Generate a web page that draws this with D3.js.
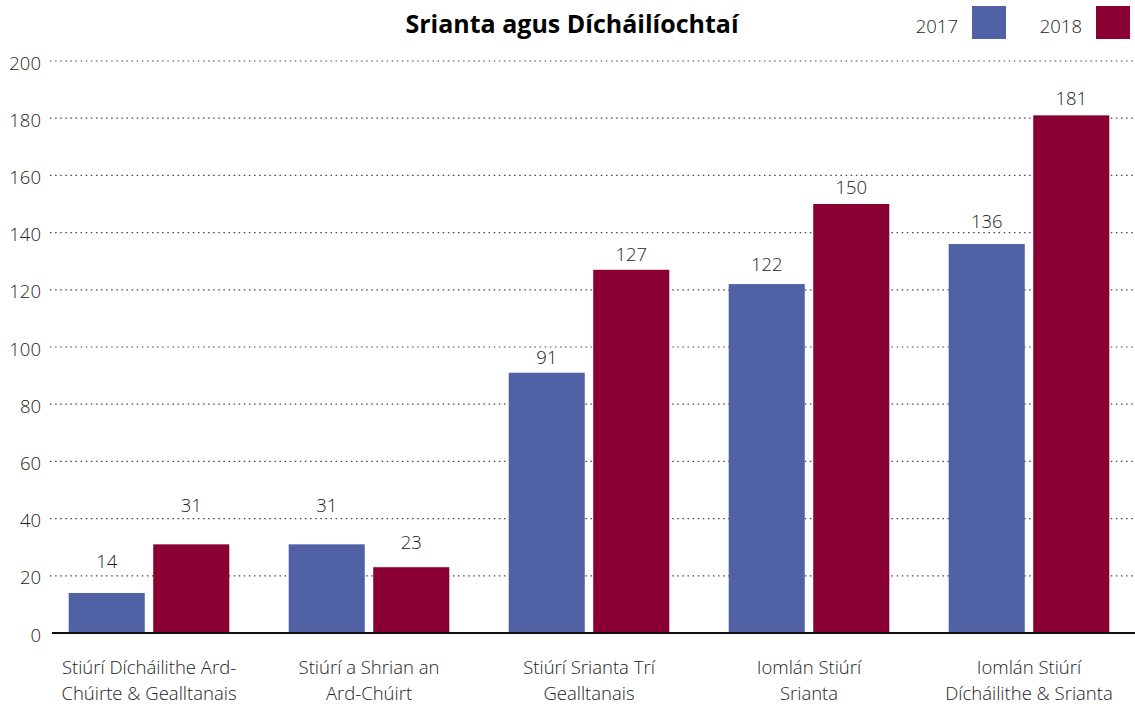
<!DOCTYPE html>
<html lang="ga">
<head>
<meta charset="utf-8">
<title>Srianta agus Dícháilíochtaí</title>
<script src="https://cdn.jsdelivr.net/npm/d3@7"></script>
<style>
  body { margin: 0; background: #fff; }
  text { font-family: "Open Sans", "Noto Sans", sans-serif; }
</style>
</head>
<body>
<script>
// data
var categories = [
  ["Stiúrí Dícháilithe Ard-", "Chúirte & Gealltanais"],
  ["Stiúrí a Shrian an", "Ard-Chúirt"],
  ["Stiúrí Srianta Trí", "Gealltanais"],
  ["Iomlán Stiúrí", "Srianta"],
  ["Iomlán Stiúrí", "Dícháilithe & Srianta"]
];
var years = ["2017", "2018"];
var values2017 = [14, 31, 91, 122, 136];
var values2018 = [31, 23, 127, 150, 181];
var yTicks = [0, 20, 40, 60, 80, 100, 120, 140, 160, 180, 200];

// layout: how far each value label sits above its bar (hand placed in the original)
var labelLift = [[25, 32, 9, 13, 16], [32, 18, 9, 10, 10]];
var colors = ["#5061a5", "#8a0032"];

var w = 1135, h = 704;
var svg = d3.select("body").append("svg")
  .attr("width", w)
  .attr("height", h);

var x0 = d3.scaleBand()
  .domain(d3.range(categories.length))
  .range([39, 1139])
  .paddingInner(0.27)
  .paddingOuter(0.135);

var x1 = d3.scaleBand()
  .domain(years)
  .range([0, x0.bandwidth()])
  .paddingInner(0.1);

var y = d3.scaleLinear()
  .domain([0, 200])
  .range([633, 61]);

// gridlines
svg.selectAll("line.grid")
  .data(yTicks.filter(function(d) { return d > 0; }))
  .enter()
  .append("line")
  .attr("class", "grid")
  .attr("x1", 50).attr("x2", w)
  .attr("y1", function(d) { return y(d); })
  .attr("y2", function(d) { return y(d); })
  .attr("stroke", "#444")
  .attr("stroke-width", 1.2)
  .attr("stroke-dasharray", "1.5,3.6");

// y tick labels
svg.selectAll("text.ytick")
  .data(yTicks)
  .enter()
  .append("text")
  .attr("class", "ytick")
  .attr("x", 41)
  .attr("y", function(d) { return y(d) + 8.5; })
  .attr("text-anchor", "end")
  .attr("font-size", "18.5px")
  .attr("font-weight", 300)
  .attr("fill", "#222")
  .text(function(d) { return d; });

// bars
var series = [values2017, values2018];
function pairs(d, i) {
  return years.map(function(yr, j) { return { yr: yr, j: j, i: i, v: series[j][i] }; });
}
var groups = svg.selectAll("g.grp")
  .data(categories)
  .enter()
  .append("g")
  .attr("class", "grp")
  .attr("transform", function(d, i) { return "translate(" + x0(i) + ",0)"; });

groups.selectAll("rect")
  .data(pairs)
  .enter()
  .append("rect")
  .attr("x", function(d) { return x1(d.yr); })
  .attr("y", function(d) { return y(d.v); })
  .attr("width", x1.bandwidth())
  .attr("height", function(d) { return y(0) - y(d.v); })
  .attr("fill", function(d) { return colors[d.j]; });

groups.selectAll("text.val")
  .data(pairs)
  .enter()
  .append("text")
  .attr("class", "val")
  .attr("x", function(d) { return x1(d.yr) + x1.bandwidth() / 2; })
  .attr("y", function(d) { return y(d.v) - labelLift[d.j][d.i]; })
  .attr("text-anchor", "middle")
  .attr("font-size", "18.5px")
  .attr("font-weight", 300)
  .attr("fill", "#222")
  .text(function(d) { return d.v; });

// baseline
svg.append("line")
  .attr("x1", 52).attr("x2", w)
  .attr("y1", y(0)).attr("y2", y(0))
  .attr("stroke", "#111")
  .attr("stroke-width", 2);

// category labels
var catText = groups.append("text")
  .attr("x", x0.bandwidth() / 2)
  .attr("y", 674)
  .attr("text-anchor", "middle")
  .attr("font-size", "18.5px")
  .attr("font-weight", 300)
  .attr("fill", "#222");
catText.selectAll("tspan")
  .data(function(d) { return d; })
  .enter()
  .append("tspan")
  .attr("x", x0.bandwidth() / 2)
  .attr("dy", function(d, i) { return i === 0 ? 0 : 26; })
  .text(function(d) { return d; });

// title
svg.append("text")
  .attr("x", 572)
  .attr("y", 33)
  .attr("text-anchor", "middle")
  .attr("font-size", "25px")
  .attr("font-weight", "bold")
  .attr("fill", "#000")
  .text("Srianta agus Dícháilíochtaí");

// legend
var legX = [972, 1096];
var leg = svg.selectAll("g.leg")
  .data(years)
  .enter()
  .append("g")
  .attr("class", "leg")
  .attr("transform", function(d, i) { return "translate(" + legX[i] + ",6)"; });
leg.append("rect")
  .attr("width", 34).attr("height", 33)
  .attr("fill", function(d, i) { return colors[i]; });
leg.append("text")
  .attr("x", -14)
  .attr("y", 27)
  .attr("text-anchor", "end")
  .attr("font-size", "18.5px")
  .attr("font-weight", 300)
  .attr("fill", "#222")
  .text(function(d) { return d; });
</script>
</body>
</html>
